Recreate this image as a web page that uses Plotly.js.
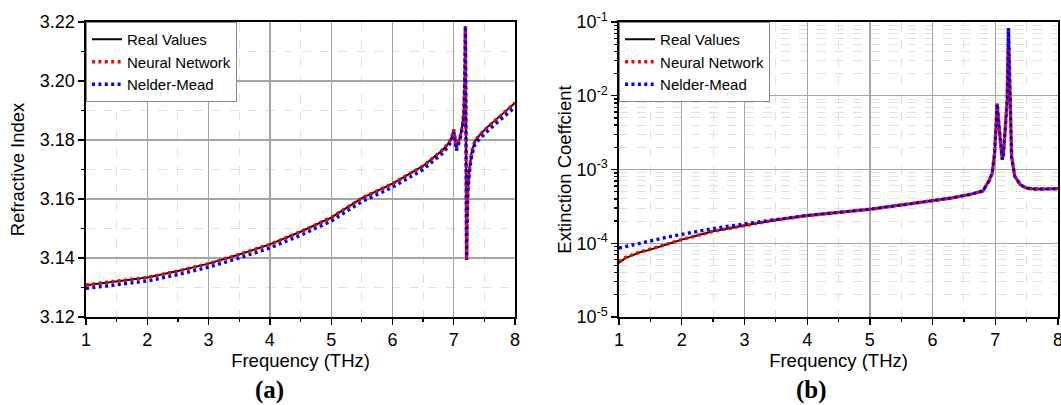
<!DOCTYPE html>
<html>
<head>
<meta charset="utf-8">
<script src="https://cdn.plot.ly/plotly-3.0.1.min.js"></script>
<style>html,body{margin:0;padding:0;background:#fff;}#chart{width:1061px;height:405px;}</style>
</head>
<body>
<div id="chart"></div>
<script>
// ---- Panel (a): refractive index ----
const freqA = [1, 1.5, 2, 2.5, 3, 3.5, 4, 4.5, 5, 5.5, 6, 6.5, 6.8, 6.9, 6.95, 6.98, 7.0, 7.02, 7.044, 7.07, 7.1, 7.145, 7.166, 7.18, 7.19, 7.2, 7.21, 7.22, 7.23, 7.253, 7.29, 7.346, 7.43, 7.54, 7.65, 7.76, 7.87, 7.98, 8];
const realA = [3.1308, 3.1321, 3.1334, 3.1356, 3.1381, 3.1412, 3.1446, 3.1489, 3.1537, 3.1603, 3.1652, 3.1712, 3.1763, 3.1785, 3.1802, 3.1818, 3.1836, 3.1810, 3.1772, 3.1790, 3.1808, 3.1853, 3.1898, 3.2011, 3.2186, 3.1800, 3.1393, 3.1550, 3.1630, 3.1695, 3.1757, 3.1797, 3.1819, 3.1842, 3.1862, 3.1881, 3.1901, 3.1921, 3.1926];
const neuralA = [3.1309, 3.1321, 3.1334, 3.1356, 3.1381, 3.1412, 3.1446, 3.1489, 3.1537, 3.1603, 3.1652, 3.1712, 3.1763, 3.1785, 3.1802, 3.1818, 3.1836, 3.1810, 3.1772, 3.1790, 3.1808, 3.1853, 3.1898, 3.2011, 3.2186, 3.1800, 3.1393, 3.1550, 3.1630, 3.1695, 3.1757, 3.1797, 3.1819, 3.1842, 3.1862, 3.1881, 3.1901, 3.1921, 3.1926];
const nelderA = [3.1297, 3.1309, 3.1322, 3.1344, 3.1369, 3.1400, 3.1434, 3.1477, 3.1525, 3.1591, 3.1640, 3.1700, 3.1752, 3.1775, 3.1792, 3.1808, 3.1826, 3.1800, 3.1764, 3.1782, 3.1800, 3.1846, 3.1892, 3.2008, 3.2186, 3.1800, 3.1393, 3.1545, 3.1622, 3.1686, 3.1746, 3.1785, 3.1806, 3.1829, 3.1849, 3.1868, 3.1888, 3.1907, 3.1912];

// ---- Panel (b): extinction coefficient ----
const freqB = [1, 1.05, 1.1, 1.2, 1.35, 1.5, 1.75, 2, 2.5, 3, 3.5, 4, 4.5, 5, 5.5, 6, 6.3, 6.6, 6.8, 6.9, 6.95, 6.99, 7.01, 7.03, 7.06, 7.09, 7.11, 7.13, 7.16, 7.19, 7.21, 7.235, 7.26, 7.31, 7.4, 7.5, 7.6, 7.8, 8];
const realB = [5.4e-5, 5.9e-5, 6.3e-5, 6.8e-5, 7.6e-5, 8.2e-5, 9.6e-5, 1.12e-4, 1.45e-4, 1.75e-4, 2.07e-4, 2.37e-4, 2.62e-4, 2.89e-4, 3.3e-4, 3.75e-4, 4.1e-4, 4.6e-4, 5.1e-4, 7.0e-4, 8.8e-4, 1.69e-3, 3.85e-3, 7.8e-3, 3.85e-3, 1.86e-3, 1.36e-3, 1.6e-3, 3.85e-3, 8.7e-3, 8.3e-2, 8.7e-3, 1.5e-3, 8.1e-4, 6.2e-4, 5.6e-4, 5.45e-4, 5.45e-4, 5.5e-4];
const neuralB = [5.6e-5, 6.1e-5, 6.4e-5, 6.9e-5, 7.7e-5, 8.3e-5, 9.7e-5, 1.12e-4, 1.45e-4, 1.75e-4, 2.07e-4, 2.37e-4, 2.62e-4, 2.89e-4, 3.3e-4, 3.75e-4, 4.1e-4, 4.6e-4, 5.1e-4, 7.0e-4, 8.8e-4, 1.69e-3, 3.85e-3, 7.8e-3, 3.85e-3, 1.86e-3, 1.36e-3, 1.6e-3, 3.85e-3, 8.7e-3, 8.3e-2, 8.7e-3, 1.5e-3, 8.1e-4, 6.2e-4, 5.6e-4, 5.45e-4, 5.45e-4, 5.5e-4];
const nelderB = [8.6e-5, 8.8e-5, 9.0e-5, 9.4e-5, 1.0e-4, 1.07e-4, 1.2e-4, 1.32e-4, 1.58e-4, 1.83e-4, 2.1e-4, 2.38e-4, 2.62e-4, 2.89e-4, 3.3e-4, 3.75e-4, 4.1e-4, 4.6e-4, 5.1e-4, 7.0e-4, 8.8e-4, 1.69e-3, 3.85e-3, 7.8e-3, 3.85e-3, 1.86e-3, 1.36e-3, 1.6e-3, 3.85e-3, 8.7e-3, 8.3e-2, 8.7e-3, 1.5e-3, 8.1e-4, 6.2e-4, 5.6e-4, 5.45e-4, 5.45e-4, 5.5e-4];

const seriesNames = ['Real Values', 'Neural Network', 'Nelder-Mead'];
const xTicks = [1, 2, 3, 4, 5, 6, 7, 8];
const yTicksA = [3.12, 3.14, 3.16, 3.18, 3.20, 3.22];
const yTickTextA = ['3.12', '3.14', '3.16', '3.18', '3.20', '3.22'];
const yTicksB = [1e-5, 1e-4, 1e-3, 1e-2, 1e-1];
const yTickTextB = ['10<sup>-5</sup>', '10<sup>-4</sup>', '10<sup>-3</sup>', '10<sup>-2</sup>', '10<sup>-1</sup>'];
const xTitle = 'Frequency (THz)';
const yTitleA = 'Refractive Index';
const yTitleB = 'Extinction Coeffcient';
const panelLabels = ['(a)', '(b)'];

const FONT = 'Liberation Sans, Arial, sans-serif';
const blackLine = {color: '#000', width: 2};
const redLine = {color: '#ff0000', width: 3.4, dash: '3px,3.4px'};
const blueLine = {color: '#0000ff', width: 3.4, dash: '3px,3.4px'};

const traces = [
  {x: freqA, y: realA, name: seriesNames[0], mode: 'lines', line: blackLine, xaxis: 'x', yaxis: 'y', legend: 'legend'},
  {x: freqA, y: neuralA, name: seriesNames[1], mode: 'lines', line: redLine, xaxis: 'x', yaxis: 'y', legend: 'legend'},
  {x: freqA, y: nelderA, name: seriesNames[2], mode: 'lines', line: blueLine, xaxis: 'x', yaxis: 'y', legend: 'legend'},
  {x: freqB, y: realB, name: seriesNames[0], mode: 'lines', line: blackLine, xaxis: 'x2', yaxis: 'y2', legend: 'legend2'},
  {x: freqB, y: neuralB, name: seriesNames[1], mode: 'lines', line: redLine, xaxis: 'x2', yaxis: 'y2', legend: 'legend2'},
  {x: freqB, y: nelderB, name: seriesNames[2], mode: 'lines', line: blueLine, xaxis: 'x2', yaxis: 'y2', legend: 'legend2'}
];

const gridMajor = '#a6a6a6';
const gridMinor = '#e2e2e2';
function xAxis(domain, anchor) {
  return {
    domain: domain, anchor: anchor, range: [1, 8], tickmode: 'array', tickvals: xTicks,
    ticks: 'outside', ticklen: 6, tickwidth: 1.3, tickcolor: '#000',
    showline: true, linecolor: '#000', linewidth: 1.6, mirror: true,
    showgrid: true, gridcolor: gridMajor, gridwidth: 1.3, zeroline: false,
    ticklabeloverflow: 'allow',
    tickfont: {family: FONT, size: 18, color: '#000'},
    minor: {dtick: 0.5, tick0: 1, ticks: 'outside', ticklen: 3, tickcolor: '#000', showgrid: true, gridcolor: gridMinor, griddash: 'dash', gridwidth: 1},
    title: {text: xTitle, font: {family: FONT, size: 18.5, color: '#000'}, standoff: 2}
  };
}

const legendBase = {
  xanchor: 'left', yanchor: 'top', xref: 'paper', yref: 'paper',
  bgcolor: '#fff', bordercolor: '#8a8a8a', borderwidth: 1,
  font: {family: FONT, size: 15, color: '#000'}, itemwidth: 30, tracegroupgap: 0
};

const layout = {
  width: 1061, height: 405,
  margin: {l: 86, r: 3, t: 22, b: 88},
  paper_bgcolor: '#fff', plot_bgcolor: '#fff',
  showlegend: true,
  xaxis: xAxis([0, 0.4414], 'y'),
  xaxis2: xAxis([0.5484, 1], 'y2'),
  yaxis: {
    domain: [0, 1], anchor: 'x', range: [3.12, 3.22], tickmode: 'array', tickvals: yTicksA, ticktext: yTickTextA,
    ticks: 'outside', ticklen: 6, tickwidth: 1.3, tickcolor: '#000',
    showline: true, linecolor: '#000', linewidth: 1.6, mirror: true,
    showgrid: true, gridcolor: gridMajor, gridwidth: 1.3, zeroline: false,
    tickfont: {family: FONT, size: 18, color: '#000'},
    minor: {dtick: 0.01, tick0: 3.12, ticks: 'outside', ticklen: 3, tickcolor: '#000', showgrid: true, gridcolor: gridMinor, griddash: 'dash', gridwidth: 1},
    title: {text: yTitleA, font: {family: FONT, size: 18.5, color: '#000'}, standoff: 10}
  },
  yaxis2: {
    domain: [0, 1], anchor: 'x2', type: 'log', range: [-5, -1], tickmode: 'array', tickvals: yTicksB, ticktext: yTickTextB,
    ticks: 'outside', ticklen: 6, tickwidth: 1.3, tickcolor: '#000',
    showline: true, linecolor: '#000', linewidth: 1.6, mirror: true,
    showgrid: true, gridcolor: gridMajor, gridwidth: 1.3, zeroline: false,
    tickfont: {family: FONT, size: 18, color: '#000'},
    minor: {dtick: 'D1', ticks: 'outside', ticklen: 3, tickcolor: '#000', showgrid: true, gridcolor: gridMinor, griddash: 'dash', gridwidth: 1},
    title: {text: yTitleB, font: {family: FONT, size: 18.5, color: '#000'}, standoff: 0}
  },
  legend: Object.assign({x: 0, y: 1}, legendBase),
  legend2: Object.assign({x: 0.5484, y: 1}, legendBase),
  annotations: [
    {text: '<b>' + panelLabels[0] + '</b>', xref: 'paper', yref: 'paper', x: 0.189, y: -0.247, xanchor: 'center', yanchor: 'middle', showarrow: false, font: {family: 'Liberation Serif, serif', size: 25, color: '#000'}},
    {text: '<b>' + panelLabels[1] + '</b>', xref: 'paper', yref: 'paper', x: 0.746, y: -0.247, xanchor: 'center', yanchor: 'middle', showarrow: false, font: {family: 'Liberation Serif, serif', size: 25, color: '#000'}}
  ]
};

Plotly.newPlot('chart', traces, layout, {displayModeBar: false, staticPlot: true});
</script>
</body>
</html>
